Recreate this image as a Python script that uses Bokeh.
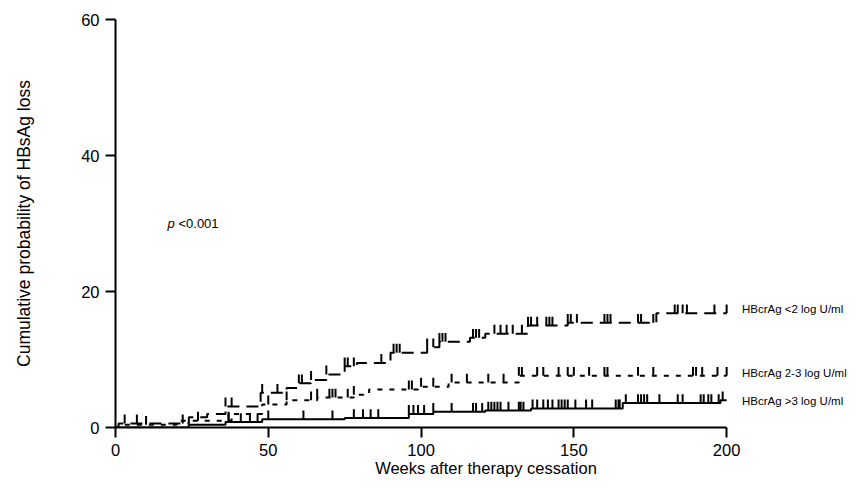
import numpy as np
from bokeh.plotting import figure
from bokeh.models import Range1d, FixedTicker
from bokeh.core.properties import value
from bokeh.embed import file_html
from bokeh.resources import INLINE

# ---------------- data ----------------
# step curves: time (weeks) at which level changes, level (%) after the step
a_times = [0, 1, 24, 30, 36, 47.5, 56, 60, 64, 69, 75, 79, 90, 102, 106, 116, 121, 135, 148, 177, 200]
a_levels = [0, 0.6, 1.5, 2.0, 3.1, 5.1, 5.8, 6.5, 7.0, 7.8, 9.0, 9.5, 11.0, 11.8, 12.6, 13.2, 13.8, 15.0, 15.4, 16.8, 16.8]

b_times = [0, 2, 20, 38, 48, 56, 66, 78, 83, 99, 109, 132, 200]
b_levels = [0, 0.4, 1.0, 2.0, 3.4, 4.0, 4.4, 4.8, 5.6, 6.0, 6.6, 7.6, 7.6]

c_times = [0, 24, 36, 48, 75, 96, 104, 121, 136, 166, 198, 200]
c_levels = [0, 0.4, 0.8, 1.2, 1.4, 2.0, 2.3, 2.5, 2.8, 3.6, 4.0, 4.0]

# censoring times (weeks)
a_censor = [3, 7, 22, 36, 38, 48, 53, 60, 61, 64, 69, 75, 76, 78, 87, 91, 92, 93, 102, 104, 106,
            107, 108, 117, 118, 119, 124, 126, 128, 130, 133, 135, 136, 138, 141, 142, 143, 148,
            149, 151, 160, 161, 162, 171, 172, 176, 183, 184, 185.6, 187, 196, 200]
b_censor = [10, 27, 37, 50, 56, 64, 66, 70, 71, 72, 76, 78, 96, 97, 100, 104, 110, 115, 122, 127,
            132, 133, 138, 140, 145, 148, 150, 155, 160, 161, 171, 176, 189, 190, 192, 197, 200]
c_censor = [37, 41, 44, 46.5, 50, 61.5, 71, 78, 81, 83.5, 86, 96, 97.5, 99, 101, 104, 110, 117,
            118, 120, 122, 123, 124, 125, 126, 128.6, 132, 132.6, 133.5, 136.5, 138, 140, 141.5,
            143, 145, 146, 147, 148, 150.5, 154, 156, 163.7, 164.6, 165, 167, 171, 172, 173, 174,
            178, 184, 185.6, 191.5, 192.5, 194, 195, 197.4, 198.7]

series_labels = ["HBcrAg <2 log U/ml", "HBcrAg 2-3 log U/ml", "HBcrAg >3 log U/ml"]
label_levels = [17.4, 8.0, 3.9]

x_ticks = [0, 50, 100, 150, 200]
y_ticks = [0, 20, 40, 60]

# ---------------- figure ----------------
FONT = "Liberation Sans"
p = figure(width=856, height=480, output_backend="svg", toolbar_location=None,
           x_range=Range1d(0, 242.5), y_range=Range1d(0, 60),
           min_border_left=115, min_border_right=0, min_border_top=19, min_border_bottom=53)
p.outline_line_color = None
p.grid.visible = False
p.background_fill_color = "white"
p.border_fill_color = "white"

for ax in (p.xaxis[0], p.yaxis[0]):
    ax.axis_line_width = 2
    ax.axis_line_color = "black"
    ax.major_tick_line_width = 2
    ax.major_tick_line_color = "black"
    ax.major_tick_out = 10
    ax.major_tick_in = 0
    ax.minor_tick_out = 0
    ax.minor_tick_in = 0
    ax.major_label_text_font = FONT
    ax.major_label_text_font_size = "16.5px"
    ax.major_label_text_color = "black"
    ax.axis_label_text_font = FONT
    ax.axis_label_text_font_style = "normal"
    ax.axis_label_text_color = "black"

p.xaxis[0].ticker = FixedTicker(ticks=x_ticks)
p.xaxis[0].bounds = (0, 200)
p.xaxis[0].axis_label = "Weeks after therapy cessation"
p.xaxis[0].axis_label_text_font_size = "16.5px"
p.xaxis[0].major_label_standoff = 6
p.xaxis[0].axis_label_standoff = 0

p.yaxis[0].ticker = FixedTicker(ticks=y_ticks)
p.yaxis[0].bounds = (0, 60)
p.yaxis[0].axis_label = "Cumulative probability of HBsAg loss"
p.yaxis[0].axis_label_text_font_size = "17.5px"
p.yaxis[0].major_label_standoff = 6
p.yaxis[0].axis_label_standoff = 44

TICK_H = 1.3  # censor mark height in data units

def draw(times, levels, censor, dash):
    p.step(times, levels, mode="after", line_color="black", line_width=2, line_dash=dash)
    t = np.array(times, dtype=float)
    lv = np.array(levels, dtype=float)
    cx = np.array(censor, dtype=float)
    idx = np.searchsorted(t, cx, side="right") - 1
    cy = lv[idx]
    p.segment(x0=cx, y0=cy, x1=cx, y1=cy + TICK_H, line_color="black", line_width=2)

draw(a_times, a_levels, a_censor, "12 7")
draw(b_times, b_levels, b_censor, "5 7")
draw(c_times, c_levels, c_censor, "solid")

p.text(x=[205] * 3, y=label_levels, text=series_labels, text_font=value(FONT),
       text_font_size="11.5px", text_baseline="middle", text_align="left", text_color="black")

p.text(x=[17], y=[30], text=["p"], text_font=value(FONT), text_font_size="13px",
       text_font_style="italic", text_baseline="middle", text_color="black")
p.text(x=[17], y=[30], text=["<0.001"], x_offset=11, text_font=value(FONT),
       text_font_size="13px", text_baseline="middle", text_color="black")

open("out.html", "w").write(file_html(p, INLINE))
